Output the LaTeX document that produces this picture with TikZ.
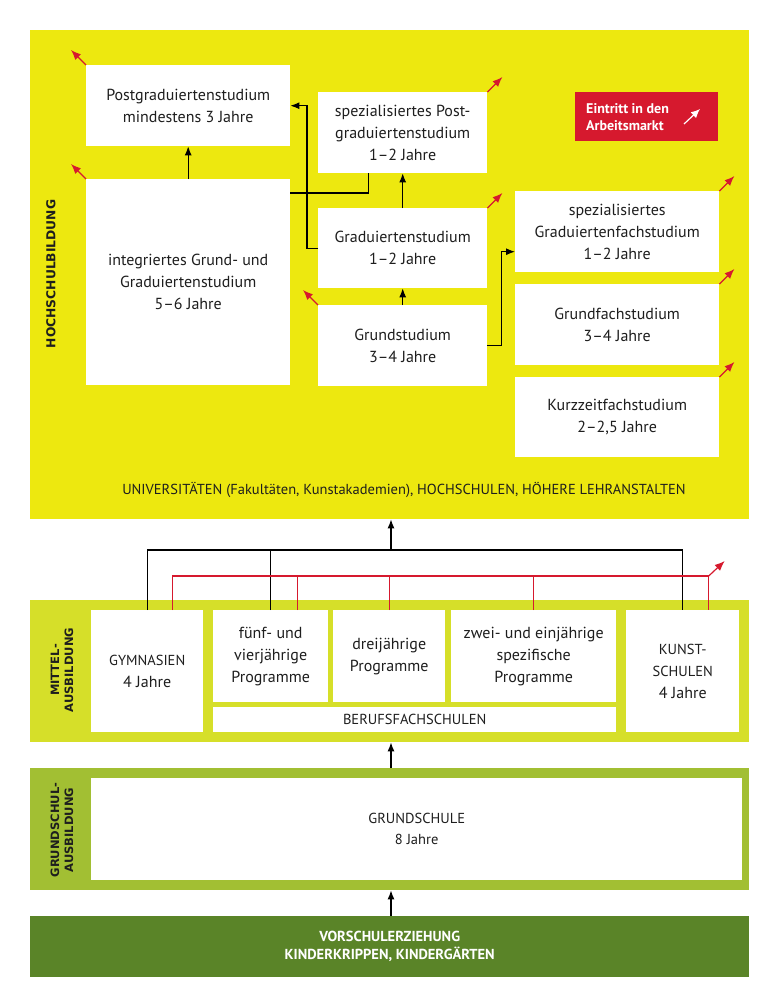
\documentclass[tikz,border=0pt]{standalone}
\usepackage{fontspec}
\setmainfont{PT Sans}
\newfontfamily\labelfont{DejaVu Sans}
\usetikzlibrary{arrows.meta,calc}
\definecolor{hyellow}{HTML}{EDE80F}
\definecolor{mgreen}{HTML}{D6DF29}
\definecolor{ggreen}{HTML}{A2BF33}
\definecolor{vgreen}{HTML}{5A8428}
\definecolor{ared}{HTML}{D6192E}
\definecolor{txt}{HTML}{1E1E1E}
\tikzset{
  band/.style={draw=none, inner sep=0pt, anchor=north west},
  wbox/.style={fill=white, draw=none, align=center, inner sep=0pt, anchor=north west, text=txt, font=\fontsize{16}{22}\selectfont},
  conn/.style={draw=black, line width=1.1pt},
  arr/.style={conn, -{Latex[length=9pt,width=7pt]}},
  exitarr/.style={draw=ared, line width=1.2pt, -{Latex[length=10pt,width=8pt]}},
  redline/.style={draw=ared, line width=1.1pt},
  sidelabel/.style={rotate=90, align=center, text=txt, font=\labelfont\fontsize{11.5}{14}\selectfont\bfseries},
  capsf/.style={font=\fontsize{14.5}{21}\selectfont},
}
\newcommand{\capt}[1]{{\fontsize{14.5}{15}\selectfont #1}}
\begin{document}
\begin{tikzpicture}[x=1pt,y=-1pt]
\useasboundingbox[fill=white] (0,0) rectangle (780,1007);
% bands
\node[band, fill=hyellow, minimum width=719pt, minimum height=489pt] (hoch) at (30,30) {};
\node[band, fill=mgreen, minimum width=719pt, minimum height=142pt] (mittel) at (30,600) {};
\node[band, fill=ggreen, minimum width=719pt, minimum height=122pt] (gsband) at (30,768) {};
\node[band, fill=vgreen, minimum width=719pt, minimum height=61pt, text=white, align=center, font=\fontsize{14.5}{18}\selectfont\bfseries] (vorsch) at (30,916) {VORSCHULERZIEHUNG\\KINDERKRIPPEN, KINDERGÄRTEN};
% side labels
\node[sidelabel, font=\labelfont\fontsize{12.3}{14}\selectfont\bfseries] (lhoch) at (51,274) {HOCHSCHULBILDUNG};
\node[sidelabel] (lmittel) at (62,670) {MITTEL-\\AUSBILDUNG};
\node[sidelabel] (lgs) at (62,830) {GRUNDSCHUL-\\AUSBILDUNG};
% Hochschule boxes
\node[wbox, minimum width=204pt, minimum height=81pt] (post) at (86,65) {Postgraduiertenstudium\\mindestens 3 Jahre};
\node[wbox, minimum width=204pt, minimum height=206pt] (integ) at (86,179) {integriertes Grund- und\\Graduiertenstudium\\5–6 Jahre};
\node[wbox, minimum width=169pt, minimum height=81pt] (spezpost) at (318,92) {spezialisiertes Post-\\graduiertenstudium\\1–2 Jahre};
\node[wbox, minimum width=169pt, minimum height=80pt] (grad) at (318,208) {Graduiertenstudium\\1–2 Jahre};
\node[wbox, minimum width=169pt, minimum height=81pt] (grund) at (318,305) {Grundstudium\\3–4 Jahre};
\node[wbox, minimum width=204pt, minimum height=81pt] (spezgrad) at (515,191) {spezialisiertes\\Graduiertenfachstudium\\1–2 Jahre};
\node[wbox, minimum width=204pt, minimum height=81pt] (grundfach) at (515,284) {Grundfachstudium\\3–4 Jahre};
\node[wbox, minimum width=204pt, minimum height=80pt] (kurz) at (515,377) {Kurzzeitfachstudium\\2–2,5 Jahre};
% legend
\node[band, fill=ared, minimum width=143pt, minimum height=49pt] (legend) at (575,92) {};
\node[anchor=west, align=left, text=white, inner sep=0pt, font=\fontsize{14}{17}\selectfont\bfseries] (legtxt) at (586,117) {Eintritt in den\\Arbeitsmarkt};
\coordinate (legA) at (684,124);
\draw[draw=white, line width=1.2pt, -{Latex[length=9pt,width=8pt]}] (legA) -- ++(16,-15);
\node[text=txt, font=\fontsize{14.5}{15}\selectfont, inner sep=0pt] (uni) at (404,490) {UNIVERSITÄTEN (Fakultäten, Kunstakademien), HOCHSCHULEN, HÖHERE LEHRANSTALTEN};
% Hochschule connectors
\draw[arr] (integ.north) -- (post.south);
\draw[arr] (grad.north) -- (spezpost.south);
\draw[arr] (grund.north) -- (grad.south);
\draw[arr] (grad.west) -- ++(-11,0) |- (post.east);
\draw[conn] ($(integ.north east)+(0,14)$) -| ($(spezpost.south)+(-34.5,0)$);
\draw[arr] (grund.east) -- ++(14,0) |- ($(spezgrad.west)+(0,20)$);
% exit arrows
\draw[exitarr] (post.north west) -- ++(-15,-15);
\draw[exitarr] (integ.north west) -- ++(-15,-15);
\draw[exitarr] (grund.north west) -- ++(-15,-15);
\draw[exitarr] (spezpost.north east) -- ++(15,-15);
\draw[exitarr] (grad.north east) -- ++(15,-15);
\draw[exitarr] (spezgrad.north east) -- ++(15,-15);
\draw[exitarr] (grundfach.north east) -- ++(15,-15);
\draw[exitarr] (kurz.north east) -- ++(15,-15);
% Mittelausbildung boxes
\node[wbox, minimum width=112pt, minimum height=122pt] (gym) at (91,610) {\capt{GYMNASIEN}\\4 Jahre};
\node[wbox, minimum width=115pt, minimum height=92pt] (fuenf) at (213,610) {fünf- und\\vierjährige\\Programme};
\node[wbox, minimum width=112pt, minimum height=92pt] (drei) at (333,610) {dreijährige\\Programme};
\node[wbox, minimum width=165pt, minimum height=92pt] (zwei) at (451,610) {zwei- und einjährige\\spezifische\\Programme};
\node[wbox, minimum width=403pt, minimum height=25pt, capsf] (beruf) at (213,707) {BERUFSFACHSCHULEN};
\node[wbox, minimum width=113pt, minimum height=122pt] (kunst) at (626,610) {\capt{KUNST-}\\\capt{SCHULEN}\\4 Jahre};
% Grundschule
\node[wbox, minimum width=651pt, minimum height=102pt, capsf] (gs) at (91,778) {GRUNDSCHULE\\8 Jahre};
% connectors between levels
\coordinate (bus) at (391,550);
\coordinate (rbus) at (391,576);
\draw[conn] (gym.north) -- (gym.north |- bus) -- (kunst.north |- bus) -- (kunst.north);
\draw[conn] (fuenf.north) -- (fuenf.north |- bus);
\draw[arr] (bus) -- (bus |- hoch.south);
\coordinate (rg) at ($(gym.north)+(25,0)$);
\coordinate (rk) at ($(kunst.north)+(26,0)$);
\draw[redline] (rg) -- (rg |- rbus) -- (rk |- rbus) -- (rk);
\draw[redline] ($(fuenf.north)+(27,0)$) -- ($(fuenf.north |- rbus)+(27,0)$);
\draw[redline] (drei.north) -- (drei.north |- rbus);
\draw[redline] (zwei.north) -- (zwei.north |- rbus);
\draw[exitarr] (rk |- rbus) -- ++(16,-15);
\draw[arr] (gsband.north -| bus) -- (mittel.south -| bus);
\draw[arr] (vorsch.north -| bus) -- (gsband.south -| bus);
\end{tikzpicture}
\end{document}
